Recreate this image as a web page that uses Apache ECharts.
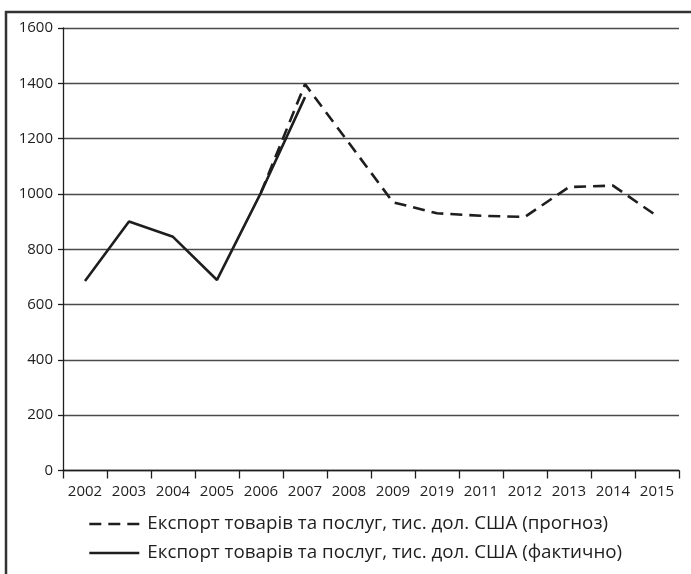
<!DOCTYPE html>
<html>
<head>
<meta charset="utf-8">
<script src="https://cdn.jsdelivr.net/npm/echarts@6/dist/echarts.min.js"></script>
<style>
  html, body { margin: 0; padding: 0; background: #fff; }
  #chart { width: 691px; height: 574px; }
</style>
</head>
<body>
<div id="chart"></div>
<script>
const years = ['2002', '2003', '2004', '2005', '2006', '2007', '2008', '2009', '2019', '2011', '2012', '2013', '2014', '2015']
// фактичні значення
const actual = [685, 900, 845, 689, 1005, 1350, null, null, null, null, null, null, null, null]
// прогноз
const forecast = [null, null, null, null, 1005, 1397, 1184, 970, 930, 921, 917, 1025, 1030, 920]
const yTicks = [0, 200, 400, 600, 800, 1000, 1200, 1400, 1600]

const nameForecast = 'Експорт товарів та послуг, тис. дол. США (прогноз)'
const nameActual = 'Експорт товарів та послуг, тис. дол. США (фактично)'

const font = 'Open Sans'
const ink = '#1e1e1e'

const chart = echarts.init(document.getElementById('chart'))

chart.setOption({
  animation: false,
  backgroundColor: '#fff',
  grid: { left: 63, right: 12, top: 28, bottom: 103.5 },
  xAxis: {
    type: 'category',
    data: years,
    boundaryGap: true,
    axisLine: { lineStyle: { color: ink, width: 1.3 } },
    axisTick: { show: true, interval: 0, length: 8, lineStyle: { color: ink, width: 1.3 } },
    axisLabel: { interval: 0, margin: 14, color: ink, fontFamily: font, fontSize: 15 },
    splitLine: { show: false }
  },
  yAxis: {
    type: 'value',
    min: yTicks[0],
    max: yTicks[yTicks.length - 1],
    interval: 200,
    axisLine: { show: true, lineStyle: { color: ink, width: 1.3 } },
    axisTick: { show: true, length: 5, lineStyle: { color: ink, width: 1.3 } },
    axisLabel: { margin: 10, color: ink, fontFamily: font, fontSize: 15, formatter: (v) => String(v) },
    splitLine: { show: true, lineStyle: { color: '#4a4a4a', width: 1.3 } }
  },
  legend: {
    orient: 'vertical',
    left: 83,
    top: 509,
    itemWidth: 50,
    itemHeight: 14,
    itemGap: 9,
    data: [nameForecast, nameActual],
    textStyle: { color: ink, fontFamily: font, fontSize: 18.8, lineHeight: 20, padding: [0, 0, 0, 3] },
    itemStyle: { opacity: 0 },
    lineStyle: { type: 'inherit', width: 'inherit' }
  },
  series: [
    {
      name: nameForecast,
      type: 'line',
      data: forecast,
      symbol: 'none',
      z: 2,
      lineStyle: { color: ink, width: 2.6, type: [12, 7] },
      itemStyle: { color: ink }
    },
    {
      name: nameActual,
      type: 'line',
      data: actual,
      symbol: 'none',
      z: 3,
      lineStyle: { color: ink, width: 2.6, type: 'solid' },
      itemStyle: { color: ink }
    }
  ],
  graphic: [
    // рамка зліва та зверху
    { type: 'line', shape: { x1: 6, y1: 11, x2: 6, y2: 574 }, style: { stroke: '#333', lineWidth: 2.5 } },
    { type: 'line', shape: { x1: 5, y1: 12, x2: 691, y2: 12 }, style: { stroke: '#333', lineWidth: 2.5 } }
  ]
})
</script>
</body>
</html>
